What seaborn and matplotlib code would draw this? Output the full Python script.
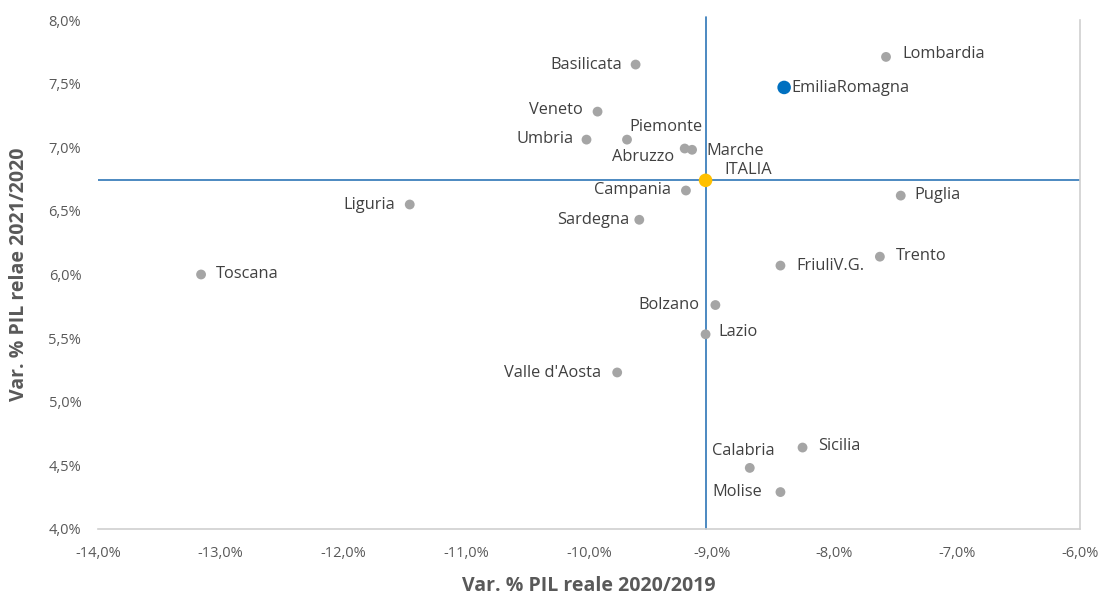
import matplotlib
matplotlib.use("Agg")
import matplotlib.pyplot as plt
from matplotlib.ticker import FuncFormatter, MultipleLocator
import seaborn as sns
import pandas as pd

regions = ["Lombardia", "EmiliaRomagna", "Basilicata", "Veneto", "Umbria", "Piemonte",
           "Abruzzo", "Marche", "ITALIA", "Campania", "Puglia", "Liguria", "Sardegna",
           "Toscana", "Trento", "FriuliV.G.", "Bolzano", "Lazio", "Valle d'Aosta",
           "Sicilia", "Calabria", "Molise"]
pil_2020 = [-7.58, -8.41, -9.62, -9.93, -10.02, -9.69, -9.22, -9.16, -9.05, -9.21, -7.46,
            -11.46, -9.59, -13.16, -7.63, -8.44, -8.97, -9.05, -9.77, -8.26, -8.69, -8.44]
pil_2021 = [7.71, 7.47, 7.65, 7.28, 7.06, 7.06, 6.99, 6.98, 6.74, 6.66, 6.62,
            6.55, 6.43, 6.00, 6.14, 6.07, 5.76, 5.53, 5.23, 4.64, 4.48, 4.29]
italia_x = -9.05
italia_y = 6.74

df = pd.DataFrame({"regione": regions, "x": pil_2020, "y": pil_2021})
df["gruppo"] = "altre"
df.loc[df.regione == "EmiliaRomagna", "gruppo"] = "emilia"
df.loc[df.regione == "ITALIA", "gruppo"] = "italia"

# label placement (ha, dx, dy in pixels)
label_pos = {
    "Lombardia": ("left", 16, 3), "EmiliaRomagna": ("left", 7, -1),
    "Basilicata": ("right", -13, 0), "Veneto": ("right", -15, 2),
    "Umbria": ("right", -13, 1), "Piemonte": ("center", 39, 13),
    "Abruzzo": ("right", -11, -8), "Marche": ("left", 14, -1),
    "ITALIA": ("left", 19, 10), "Campania": ("right", -15, 1),
    "Puglia": ("left", 14, 1), "Liguria": ("right", -15, 0),
    "Sardegna": ("right", -10, 0), "Toscana": ("left", 15, 0),
    "Trento": ("left", 16, 1), "FriuliV.G.": ("left", 16, 0),
    "Bolzano": ("right", -16, 0), "Lazio": ("left", 13, 2),
    "Valle d'Aosta": ("right", -16, -1), "Sicilia": ("left", 16, 2),
    "Calabria": ("center", -6, 17), "Molise": ("right", -18, 0),
}

sns.set_style("white")
plt.rcParams["font.family"] = ["Open Sans", "DejaVu Sans"]

fig = plt.figure(figsize=(11.08, 5.99), dpi=100)
ax = fig.add_axes([0.0884, 0.1169, 0.8863, 0.8497])

ax.axhline(italia_y, color="#2e75b6", lw=1.2, zorder=1)
ax.axvline(italia_x, ymax=1.006, color="#2e75b6", lw=1.2, zorder=1, clip_on=False)

sns.scatterplot(data=df, x="x", y="y", hue="gruppo", size="gruppo",
                palette={"altre": "#a5a5a5", "emilia": "#0070c0", "italia": "#ffc000"},
                sizes={"altre": 50, "emilia": 95, "italia": 95},
                edgecolor="none", legend=False, ax=ax, zorder=3)

for r, xv, yv in zip(regions, pil_2020, pil_2021):
    ha, dx, dy = label_pos[r]
    ax.annotate(r, (xv, yv), xytext=(dx, dy), textcoords="offset pixels",
                ha=ha, va="center", fontsize=11.8, color="#404040")

ax.set_xlim(-14, -6)
ax.set_ylim(4, 8)
ax.xaxis.set_major_locator(MultipleLocator(1))
ax.yaxis.set_major_locator(MultipleLocator(0.5))
fmt = FuncFormatter(lambda v, p: f"{v:.1f}%".replace(".", ","))
ax.xaxis.set_major_formatter(fmt)
ax.yaxis.set_major_formatter(fmt)
ax.tick_params(axis="both", labelsize=10.5, colors="#595959", length=0)
ax.tick_params(axis="x", pad=12)
ax.tick_params(axis="y", pad=12)

for s in ["top", "left"]:
    ax.spines[s].set_visible(False)
for s in ["right", "bottom"]:
    ax.spines[s].set_color("#d0d0d0")
    ax.spines[s].set_linewidth(1.2)

ax.set_xlabel("Var. % PIL reale 2020/2019", fontsize=14, fontweight="bold",
              color="#595959", labelpad=11)
ax.set_ylabel("Var. % PIL relae 2021/2020", fontsize=14, fontweight="bold",
              color="#595959", labelpad=14)

fig.savefig("out.png", dpi=100)
